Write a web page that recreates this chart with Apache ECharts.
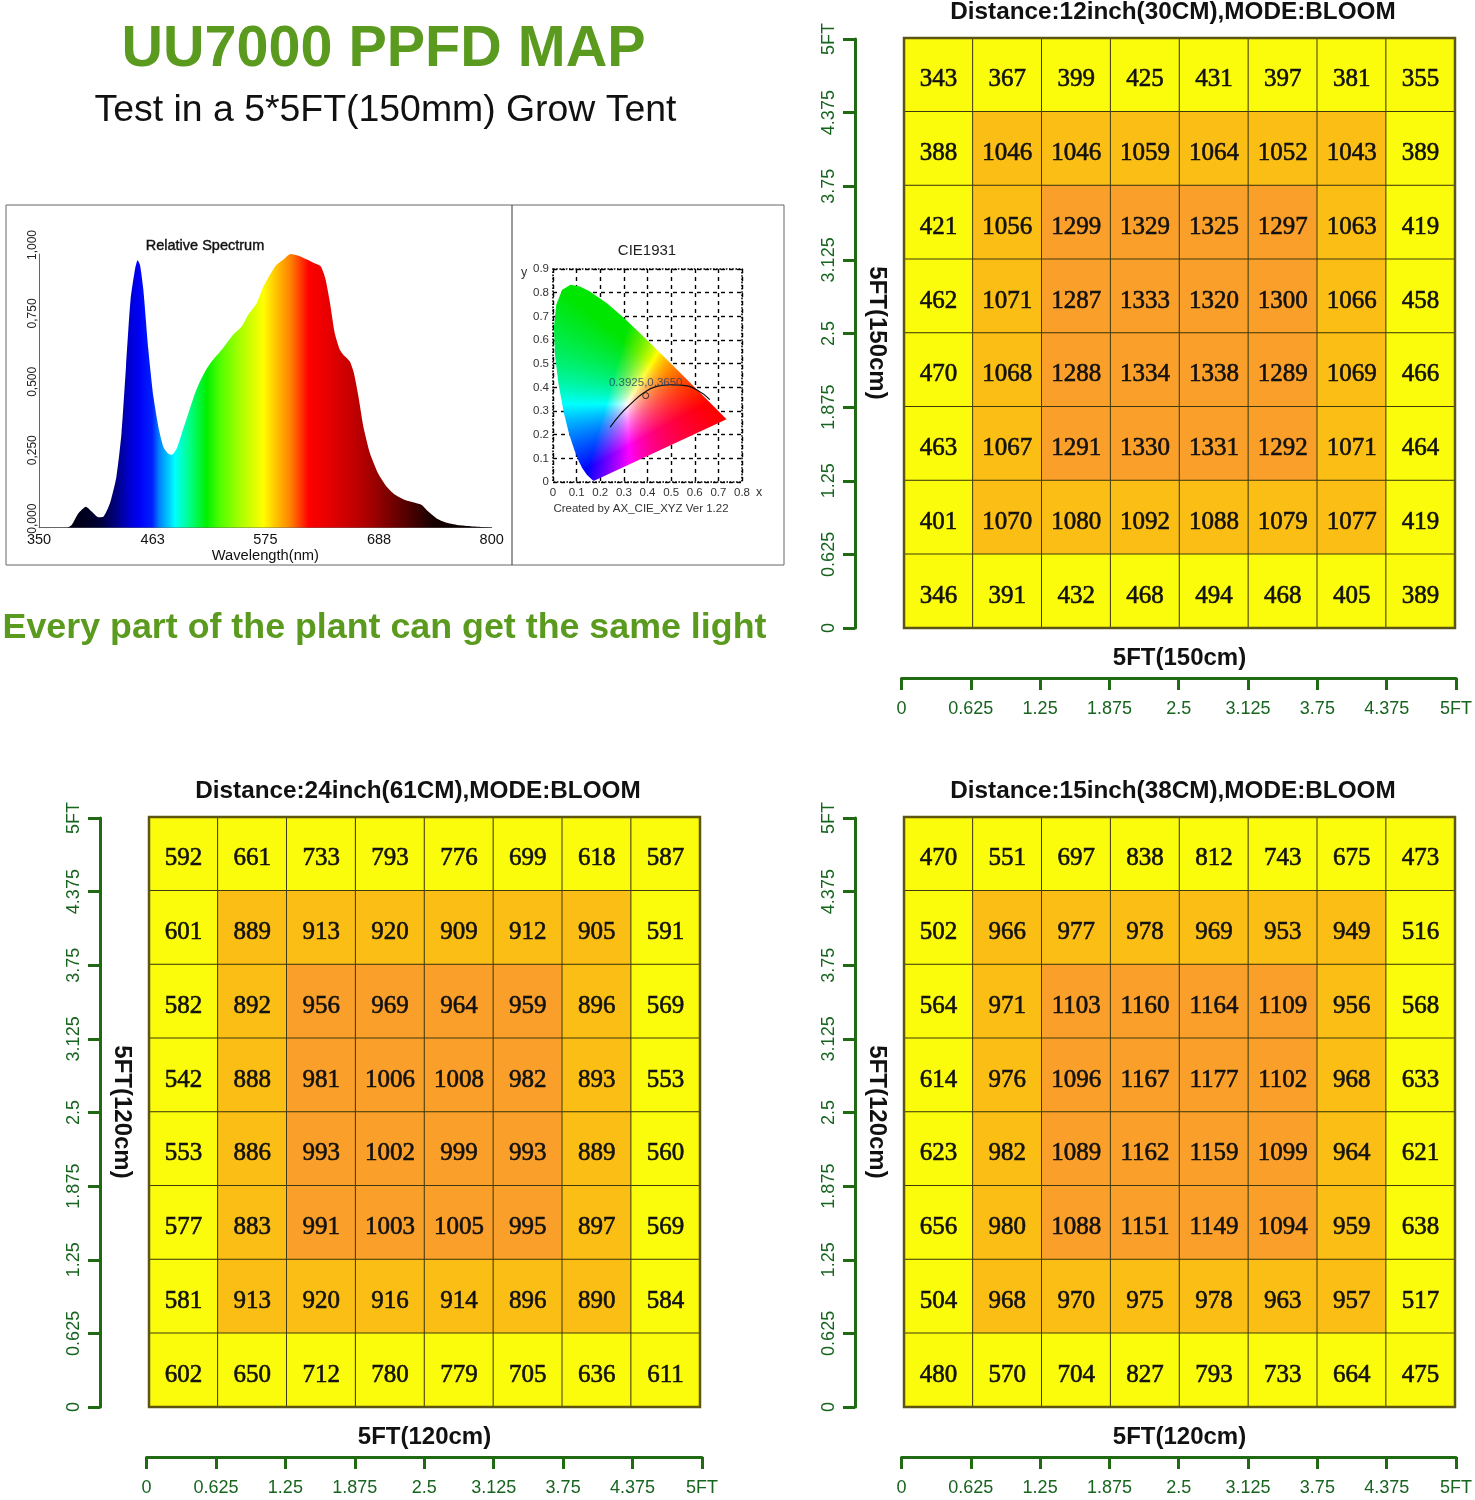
<!DOCTYPE html>
<html><head><meta charset="utf-8">
<style>html,body{margin:0;padding:0;background:#fff}#c{width:1475px;height:1500px}</style>
<script src="https://cdn.jsdelivr.net/npm/echarts@6/dist/echarts.min.js"></script>
</head><body><div id="c"></div>
<script>
const rows12 = [
[343,367,399,425,431,397,381,355],
[388,1046,1046,1059,1064,1052,1043,389],
[421,1056,1299,1329,1325,1297,1063,419],
[462,1071,1287,1333,1320,1300,1066,458],
[470,1068,1288,1334,1338,1289,1069,466],
[463,1067,1291,1330,1331,1292,1071,464],
[401,1070,1080,1092,1088,1079,1077,419],
[346,391,432,468,494,468,405,389]];
const rows24 = [
[592,661,733,793,776,699,618,587],
[601,889,913,920,909,912,905,591],
[582,892,956,969,964,959,896,569],
[542,888,981,1006,1008,982,893,553],
[553,886,993,1002,999,993,889,560],
[577,883,991,1003,1005,995,897,569],
[581,913,920,916,914,896,890,584],
[602,650,712,780,779,705,636,611]];
const rows15 = [
[470,551,697,838,812,743,675,473],
[502,966,977,978,969,953,949,516],
[564,971,1103,1160,1164,1109,956,568],
[614,976,1096,1167,1177,1102,968,633],
[623,982,1089,1162,1159,1099,964,621],
[656,980,1088,1151,1149,1094,959,638],
[504,968,970,975,978,963,957,517],
[480,570,704,827,793,733,664,475]];
const rulerLabels = ['0','0.625','1.25','1.875','2.5','3.125','3.75','4.375','5FT'];
const wavelengths = [350,377.5,382.5,389,396.7,402.4,409,414,420.6,427,432,436.5,441,445.4,448,450.4,453.7,458.7,463.7,468.6,473.6,478.6,482,487,492,498.5,505,510,515,521.6,531.6,543,551.5,558,566.4,573,579.6,586,593,600,608,616.3,624.6,630,634.5,639.3,644,649,652.5,659,663,667.5,672.4,679,687,695.6,704,713.8,723.8,730.4,737,745.3,755.3,768.5,781.8,800];
const intensity = [0,0,0.01,0.052,0.077,0.059,0.038,0.04,0.09,0.187,0.345,0.59,0.833,0.943,0.977,0.96,0.87,0.65,0.48,0.37,0.296,0.27,0.266,0.29,0.345,0.418,0.49,0.534,0.57,0.607,0.65,0.705,0.735,0.778,0.82,0.88,0.924,0.96,0.98,1,0.994,0.98,0.965,0.955,0.912,0.82,0.71,0.65,0.632,0.607,0.565,0.48,0.37,0.272,0.199,0.15,0.12,0.101,0.091,0.083,0.059,0.034,0.018,0.0085,0.004,0];
const spectrumTicks = [350,463,575,688,800];
const locusX = [0.1741,0.1714,0.1644,0.1566,0.144,0.1241,0.1096,0.0913,0.0687,0.0454,0.0235,0.0082,0.0039,0.0139,0.0389,0.0743,0.1142,0.1547,0.2296,0.3016,0.3731,0.4441,0.5125,0.5752,0.627,0.6915,0.726,0.7347];
const locusY = [0.005,0.0051,0.0109,0.0177,0.0297,0.0578,0.0868,0.1327,0.2007,0.295,0.4127,0.5384,0.6548,0.7502,0.812,0.8338,0.8262,0.8059,0.7543,0.6923,0.6245,0.5547,0.4866,0.4242,0.3725,0.3083,0.274,0.2653];
const planckX = [0.242,0.284,0.326,0.383,0.439,0.495,0.551,0.608,0.664];
const planckY = [0.232,0.285,0.327,0.376,0.404,0.411,0.408,0.39,0.348];
const whitePoint = [0.3925,0.365];

const GREEN='#1f6a12', LABEL='#17641f', SANS='"Liberation Sans",Arial,sans-serif';
const panels = [
 {rows:rows12,title:'Distance:12inch(30CM),MODE:BLOOM',xName:'5FT(150cm)',yName:'5FT(150cm)',x:904,y:38,th:[600,1200]},
 {rows:rows24,title:'Distance:24inch(61CM),MODE:BLOOM',xName:'5FT(120cm)',yName:'5FT(120cm)',x:149,y:817,th:[850,940]},
 {rows:rows15,title:'Distance:15inch(38CM),MODE:BLOOM',xName:'5FT(120cm)',yName:'5FT(120cm)',x:904,y:817,th:[900,1050]}
];
const grid=[],xAxis=[],yAxis=[],series=[],visualMap=[];
const cats=[0,1,2,3,4,5,6,7];
panels.forEach((p,i)=>{
  const g=grid.length;
  grid.push({left:p.x,top:p.y,width:551,height:590,show:true,z:5,borderColor:'#5c5612',borderWidth:2.5,backgroundColor:'transparent'});
  grid.push({left:p.x-2.5,top:p.y+1,width:555.5,height:589});
  const nameStyle={fontFamily:SANS,fontWeight:'bold',fontSize:24,color:'#111'};
  xAxis.push({gridIndex:g,type:'category',data:cats,name:p.xName,nameLocation:'middle',nameGap:18,nameTextStyle:nameStyle,axisLine:{show:false},axisTick:{show:false},axisLabel:{show:false},splitLine:{show:false}});
  yAxis.push({gridIndex:g,type:'category',data:cats,inverse:true,name:p.yName,nameLocation:'middle',nameGap:15,nameRotate:-90,nameTextStyle:nameStyle,axisLine:{show:false},axisTick:{show:false},axisLabel:{show:false},splitLine:{show:false}});
  const ruler=(extra)=>Object.assign({gridIndex:g+1,type:'value',min:0,max:5,interval:0.625,
    axisLine:{show:true,onZero:false,lineStyle:{color:GREEN,width:3}},
    axisTick:{show:true,length:12,lineStyle:{color:GREEN,width:3}},
    splitLine:{show:false}},extra);
  const fmt=v=>rulerLabels[Math.round(v/0.625)];
  xAxis.push(ruler({position:'bottom',offset:50,axisLabel:{show:true,formatter:fmt,color:LABEL,fontFamily:SANS,fontSize:18,margin:22,hideOverlap:false,showMinLabel:true,showMaxLabel:true}}));
  yAxis.push(ruler({position:'left',offset:46.5,axisLabel:{show:true,formatter:fmt,rotate:90,color:LABEL,fontFamily:SANS,fontSize:18,margin:17,hideOverlap:false,showMinLabel:true,showMaxLabel:true}}));
  const data=[];
  p.rows.forEach((r,ry)=>r.forEach((v,cx)=>data.push([cx,ry,v])));
  series.push({type:'heatmap',xAxisIndex:xAxis.length-2,yAxisIndex:yAxis.length-2,data,
    label:{show:true,color:'#111',fontFamily:'"Liberation Serif",serif',fontSize:25,offset:[0,5],textBorderColor:'#111',textBorderWidth:0.6},
    itemStyle:{borderColor:'#3f3a0e',borderWidth:1},emphasis:{disabled:true},progressive:0});
  visualMap.push({type:'piecewise',show:false,seriesIndex:i,dimension:2,pieces:[
    {lt:p.th[0],color:'#fbfb0c'},{gte:p.th[0],lt:p.th[1],color:'#fbbe15'},{gte:p.th[1],color:'#fa9f29'}]});
});

// spectrum
const sg=grid.length;
grid.push({left:39,top:254,width:452.7,height:273.7});
xAxis.push({gridIndex:sg,type:'value',min:350,max:800,name:'Wavelength(nm)',nameLocation:'middle',nameGap:17,
  nameTextStyle:{fontFamily:SANS,fontSize:14.7,color:'#111'},
  axisLine:{show:true,onZero:false,lineStyle:{color:'#666',width:1}},
  axisTick:{show:false,customValues:spectrumTicks},
  axisLabel:{customValues:spectrumTicks,color:'#111',fontFamily:SANS,fontSize:14.5,margin:5},splitLine:{show:false}});
yAxis.push({gridIndex:sg,type:'value',min:0,max:1,interval:0.25,
  axisLine:{show:true,onZero:false,lineStyle:{color:'#666',width:1}},axisTick:{show:false},
  axisLabel:{rotate:90,align:'center',padding:[0,0,0,18],color:'#222',fontFamily:SANS,fontSize:12,margin:0,formatter:v=>v.toFixed(3).replace('.',','),showMinLabel:true,showMaxLabel:true},splitLine:{show:false}});
const specStops=[[0,'#000008'],[0.061,'#000010'],[0.105,'#000020'],[0.135,'#00003a'],[0.17,'#000080'],[0.2,'#0000d0'],[0.22,'#0000f5'],[0.25,'#0020ff'],[0.265,'#0080ff'],[0.288,'#00d0ff'],[0.30,'#00ffff'],[0.33,'#00ff90'],[0.37,'#00f000'],[0.4,'#50ff00'],[0.44,'#a0ff00'],[0.495,'#ffff00'],[0.525,'#ffc000'],[0.556,'#ff8000'],[0.596,'#ff0000'],[0.65,'#e00000'],[0.72,'#b00000'],[0.80,'#600000'],[0.87,'#180000'],[1,'#000000']];
series.push({type:'line',xAxisIndex:xAxis.length-1,yAxisIndex:yAxis.length-1,data:wavelengths.map((w,i)=>[w,intensity[i]]),showSymbol:false,smooth:0.2,lineStyle:{width:0},
  areaStyle:{opacity:1,color:{type:'linear',x:0,y:0,x2:1,y2:0,colorStops:specStops.map(s=>({offset:s[0],color:s[1]}))}},z:2,silent:true});

// CIE
const cg=grid.length;
grid.push({left:553,top:269,width:189,height:213,show:true,borderColor:'#000',borderWidth:1.6,borderType:'dotted',z:4});
const cieAxis=(extra)=>Object.assign({gridIndex:cg,type:'value',min:0,interval:0.1,
  axisLine:{show:false},axisTick:{show:false},
  splitLine:{show:true,lineStyle:{color:'#000',width:1.4,type:[4,4]}}},extra);
const cieFmt=v=>v===0?'0':v.toFixed(1);
xAxis.push(cieAxis({max:0.8,axisLabel:{color:'#333',fontFamily:SANS,fontSize:11.5,margin:5,formatter:cieFmt,showMinLabel:true}}));
yAxis.push(cieAxis({max:0.9,axisLabel:{color:'#333',fontFamily:SANS,fontSize:11.5,margin:4,formatter:cieFmt,showMinLabel:true}}));

let chromaCanvas=null;
function chroma(x,y){
  const X=x/y,Y=1,Z=(1-x-y)/y;
  const c=[3.2406*X-1.5372*Y-0.4986*Z,-0.9689*X+1.8758*Y+0.0415*Z,0.0557*X-0.204*Y+1.057*Z].map(v=>Math.max(0,v));
  const m=Math.max(c[0],c[1],c[2])||1;
  const k=c[1]>=m?1-0.1*(1-Math.max(c[0],c[2])/m):1;
  return c.map(v=>Math.round(Math.pow(v/m,0.85)*255*k));
}
function getChroma(api,W,H){
  if(chromaCanvas) return chromaCanvas;
  const o=api.coord([0,0]),e=api.coord([1,1]);
  const cv=document.createElement('canvas');cv.width=W;cv.height=H;
  const ctx=cv.getContext('2d'),img=ctx.createImageData(W,H);
  const x0=Math.floor(o[0])-2,x1=Math.ceil(api.coord([0.76,0])[0]),y0=Math.floor(api.coord([0,0.86])[1]),y1=Math.ceil(o[1])+2;
  for(let py=y0;py<y1;py++)for(let px=x0;px<x1;px++){
    const x=(px+0.5-o[0])/(e[0]-o[0]),y=Math.max(0.001,(py+0.5-o[1])/(e[1]-o[1]));
    const c=chroma(Math.max(0,x),y),i=(py*W+px)*4;
    img.data[i]=c[0];img.data[i+1]=c[1];img.data[i+2]=c[2];img.data[i+3]=255;
  }
  ctx.putImageData(img,0,0);
  return chromaCanvas=cv;
}
series.push({type:'custom',xAxisIndex:xAxis.length-1,yAxisIndex:yAxis.length-1,coordinateSystem:'cartesian2d',z:2,silent:true,
  encode:{x:0,y:1},data:locusX.map((x,i)=>[x,locusY[i]]),
  renderItem:(params,api)=>{
    if(params.dataIndex!==0) return;
    const pts=locusX.map((x,i)=>api.coord([x,locusY[i]]));
    return {type:'polygon',shape:{points:pts},style:{fill:{image:getChroma(api,1475,1500),repeat:'no-repeat'}}};
  }});
series.push({type:'line',xAxisIndex:xAxis.length-1,yAxisIndex:yAxis.length-1,smooth:0.5,showSymbol:false,z:3,silent:true,
  data:planckX.map((x,i)=>[x,planckY[i]]),lineStyle:{color:'#111',width:1.2}});
series.push({type:'scatter',xAxisIndex:xAxis.length-1,yAxisIndex:yAxis.length-1,z:4,silent:true,symbol:'circle',symbolSize:6,
  data:[whitePoint],itemStyle:{color:'rgba(0,0,0,0)',borderColor:'#111',borderWidth:1},
  label:{show:true,position:'top',distance:3,formatter:'0.3925,0.3650',fontFamily:SANS,fontSize:11.5,color:'#1b3f66'}});

const T=(text,x,y,font,fill,extra)=>({type:'text',x,y,silent:true,style:Object.assign({text,font,fill,align:'center',verticalAlign:'middle'},extra||{})});
const graphic=[
  {type:'rect',shape:{x:6,y:205,width:778,height:360},style:{fill:'none',stroke:'#666',lineWidth:1},silent:true},
  {type:'line',shape:{x1:512,y1:205,x2:512,y2:565},style:{stroke:'#555',lineWidth:1.2},silent:true},
  T('UU7000 PPFD MAP',383.5,50,'bold 57.5px '+SANS,'#5a9a1e'),
  T('Test in a 5*5FT(150mm) Grow Tent',385.5,111,'37.4px '+SANS,'#111'),
  T('Every part of the plant can get the same light',384.5,628,'bold 35.8px '+SANS,'#5a9a1e'),
  T('Relative Spectrum',205,246,'14.5px '+SANS,'#111',{stroke:'#111',lineWidth:0.4}),
  T('CIE1931',647,251,'15px '+SANS,'#222'),
  T('y',524,273,'12.5px '+SANS,'#333'),
  T('x',759,493,'12.5px '+SANS,'#333'),
  T('Created by AX_CIE_XYZ Ver 1.22',641,509,'11.5px '+SANS,'#333'),
];
panels.forEach(p=>graphic.push(T(p.title,p.x+269,p.y-26,'bold 24.3px '+SANS,'#111')));

const chart=echarts.init(document.getElementById('c'),null,{renderer:'canvas'});
chart.setOption({animation:false,backgroundColor:'#fff',grid,xAxis,yAxis,series,visualMap,graphic});
</script></body></html>
